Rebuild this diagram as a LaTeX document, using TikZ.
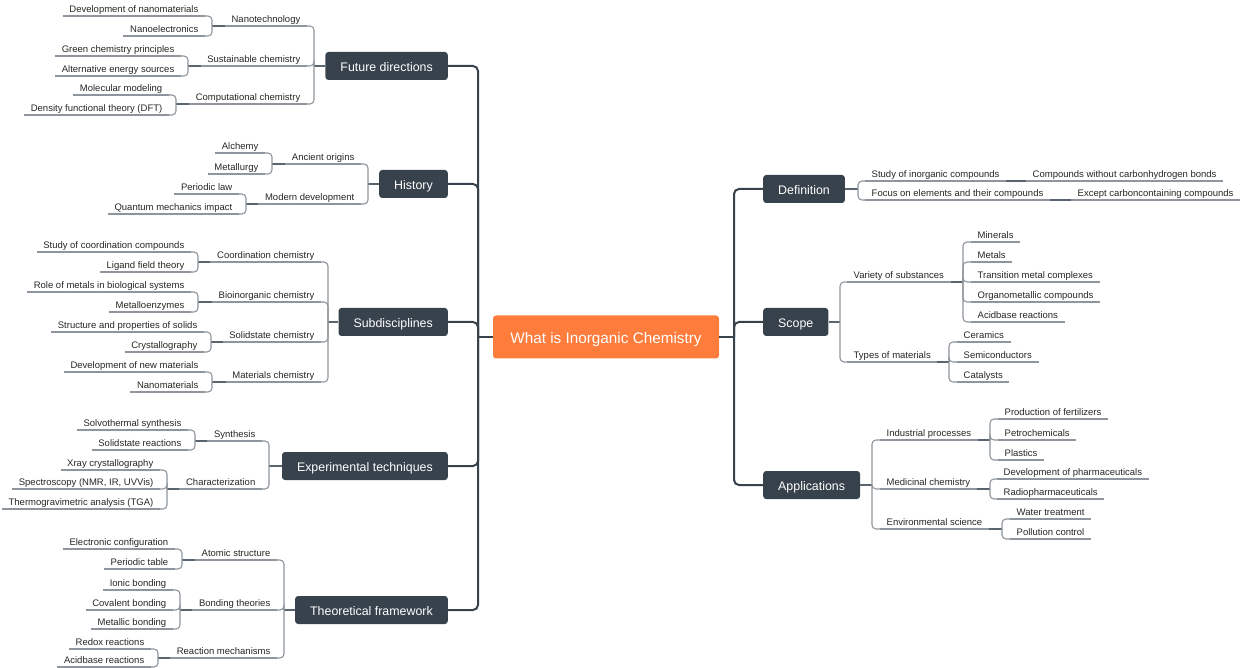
\documentclass[tikz,border=0pt]{standalone}
\usepackage{fontspec}
\setmainfont{Liberation Sans}
\usetikzlibrary{shapes}

\definecolor{rootorange}{HTML}{FE7D3D}
\definecolor{topicdark}{HTML}{37424C}
\definecolor{linegray}{HTML}{8E959C}
\definecolor{linkdark}{HTML}{5A646E}

\begin{document}
\begin{tikzpicture}[x=1pt, y=-1pt,
  root/.style={fill=rootorange, text=white, rounded corners=3pt, minimum width=226pt, minimum height=43pt, text height=12.5pt, text depth=0pt, font=\fontsize{15.3}{18}\selectfont},
  topic/.style={fill=topicdark, text=white, rounded corners=3pt, inner xsep=15pt, minimum height=28pt, text height=10.5pt, text depth=0pt, font=\fontsize{12.4}{15}\selectfont},
  idea/.style={font=\fontsize{9.5}{11}\selectfont, text=black!85, inner xsep=6.5pt, inner ysep=2pt, text height=7pt, text depth=1.5pt,
    append after command={(\tikzlastnode.south west) edge[subline] (\tikzlastnode.south east)}},
  mainline/.style={draw=topicdark, line width=2pt, rounded corners=5pt},
  linkline/.style={draw=linkdark, line width=1.2pt},
  subline/.style={draw=linegray, line width=1.1pt, rounded corners=4pt},
]
\useasboundingbox (0,0) rectangle (1240,668);

% centre
\node[root] (root) at (606,337) {What is Inorganic Chemistry};

% main topics, left
\node[topic, anchor=east] (fd) at (448,66) {Future directions};
\node[topic, anchor=east] (hi) at (448,184) {History};
\node[topic, anchor=east] (sd) at (448,322) {Subdisciplines};
\node[topic, anchor=east] (et) at (448,466) {Experimental techniques};
\node[topic, anchor=east] (tf) at (448,610) {Theoretical framework};

% main topics, right
\node[topic, anchor=west] (df) at (763,189) {Definition};
\node[topic, anchor=west] (sc) at (763,322) {Scope};
\node[topic, anchor=west] (ap) at (763,485) {Applications};

\draw[mainline] (root.west) -- (478,337);
\foreach \t in {fd,hi,sd,et,tf}
  \draw[mainline] (478,337) |- (\t.east);
\draw[mainline] (root.east) -- (734,337);
\foreach \t in {df,sc,ap}
  \draw[mainline] (734,337) |- (\t.west);

% Future directions
\node[idea, anchor=south east] (fd1) at (307,26) {Nanotechnology};
\node[idea, anchor=south east] (fd2) at (307,66) {Sustainable chemistry};
\node[idea, anchor=south east] (fd3) at (307,104) {Computational chemistry};
\node[idea, anchor=south east] (fd1a) at (205,16) {Development of nanomaterials};
\node[idea, anchor=south east] (fd1b) at (205,36) {Nanoelectronics};
\node[idea, anchor=south east] (fd2a) at (181,56) {Green chemistry principles};
\node[idea, anchor=south east] (fd2b) at (181,76) {Alternative energy sources};
\node[idea, anchor=south east] (fd3a) at (169,95) {Molecular modeling};
\node[idea, anchor=south east] (fd3b) at (169,115) {Density functional theory (DFT)};
\draw[linkline] (fd.west) -- (314,66);
\foreach \c in {fd1,fd2,fd3} \draw[subline] (314,66) |- (\c.south east);
\draw[linkline] (fd1.south west) -- (212,26);
\foreach \c in {fd1a,fd1b} \draw[subline] (212,26) |- (\c.south east);
\draw[linkline] (fd2.south west) -- (188,66);
\foreach \c in {fd2a,fd2b} \draw[subline] (188,66) |- (\c.south east);
\draw[linkline] (fd3.south west) -- (176,104);
\foreach \c in {fd3a,fd3b} \draw[subline] (176,104) |- (\c.south east);

% History
\node[idea, anchor=south east] (hi1) at (361,164) {Ancient origins};
\node[idea, anchor=south east] (hi2) at (361,204) {Modern development};
\node[idea, anchor=south east] (hi1a) at (265,153) {Alchemy};
\node[idea, anchor=south east] (hi1b) at (265,174) {Metallurgy};
\node[idea, anchor=south east] (hi2a) at (239,194) {Periodic law};
\node[idea, anchor=south east] (hi2b) at (239,214) {Quantum mechanics impact};
\draw[linkline] (hi.west) -- (368,184);
\foreach \c in {hi1,hi2} \draw[subline] (368,184) |- (\c.south east);
\draw[linkline] (hi1.south west) -- (272,164);
\foreach \c in {hi1a,hi1b} \draw[subline] (272,164) |- (\c.south east);
\draw[linkline] (hi2.south west) -- (246,204);
\foreach \c in {hi2a,hi2b} \draw[subline] (246,204) |- (\c.south east);

% Subdisciplines
\node[idea, anchor=south east] (sd1) at (321,262) {Coordination chemistry};
\node[idea, anchor=south east] (sd2) at (321,302) {Bioinorganic chemistry};
\node[idea, anchor=south east] (sd3) at (321,342) {Solidstate chemistry};
\node[idea, anchor=south east] (sd4) at (321,382) {Materials chemistry};
\node[idea, anchor=south east] (sd1a) at (191,252) {Study of coordination compounds};
\node[idea, anchor=south east] (sd1b) at (191,272) {Ligand field theory};
\node[idea, anchor=south east] (sd2a) at (191,292) {Role of metals in biological systems};
\node[idea, anchor=south east] (sd2b) at (191,312) {Metalloenzymes};
\node[idea, anchor=south east] (sd3a) at (204,332) {Structure and properties of solids};
\node[idea, anchor=south east] (sd3b) at (204,352) {Crystallography};
\node[idea, anchor=south east] (sd4a) at (205,372) {Development of new materials};
\node[idea, anchor=south east] (sd4b) at (205,392) {Nanomaterials};
\draw[linkline] (sd.west) -- (328,322);
\foreach \c in {sd1,sd2,sd3,sd4} \draw[subline] (328,322) |- (\c.south east);
\draw[linkline] (sd1.south west) -- (198,262);
\foreach \c in {sd1a,sd1b} \draw[subline] (198,262) |- (\c.south east);
\draw[linkline] (sd2.south west) -- (198,302);
\foreach \c in {sd2a,sd2b} \draw[subline] (198,302) |- (\c.south east);
\draw[linkline] (sd3.south west) -- (211,342);
\foreach \c in {sd3a,sd3b} \draw[subline] (211,342) |- (\c.south east);
\draw[linkline] (sd4.south west) -- (212,382);
\foreach \c in {sd4a,sd4b} \draw[subline] (212,382) |- (\c.south east);

% Experimental techniques
\node[idea, anchor=south east] (et1) at (262,441) {Synthesis};
\node[idea, anchor=south east] (et2) at (262,489) {Characterization};
\node[idea, anchor=south east] (et1a) at (188,430) {Solvothermal synthesis};
\node[idea, anchor=south east] (et1b) at (188,450) {Solidstate reactions};
\node[idea, anchor=south east] (et2a) at (160,470) {Xray crystallography};
\node[idea, anchor=south east] (et2b) at (160,489) {Spectroscopy (NMR, IR, UVVis)};
\node[idea, anchor=south east] (et2c) at (160,509) {Thermogravimetric analysis (TGA)};
\draw[linkline] (et.west) -- (269,466);
\foreach \c in {et1,et2} \draw[subline] (269,466) |- (\c.south east);
\draw[linkline] (et1.south west) -- (195,441);
\foreach \c in {et1a,et1b} \draw[subline] (195,441) |- (\c.south east);
\draw[linkline] (et2.south west) -- (167,489);
\foreach \c in {et2a,et2b,et2c} \draw[subline] (167,489) |- (\c.south east);

% Theoretical framework
\node[idea, anchor=south east] (tf1) at (277,560) {Atomic structure};
\node[idea, anchor=south east] (tf2) at (277,610) {Bonding theories};
\node[idea, anchor=south east] (tf3) at (277,658) {Reaction mechanisms};
\node[idea, anchor=south east] (tf1a) at (175,549) {Electronic configuration};
\node[idea, anchor=south east] (tf1b) at (175,569) {Periodic table};
\node[idea, anchor=south east] (tf2a) at (173,590) {Ionic bonding};
\node[idea, anchor=south east] (tf2b) at (173,610) {Covalent bonding};
\node[idea, anchor=south east] (tf2c) at (173,629) {Metallic bonding};
\node[idea, anchor=south east] (tf3a) at (151,649) {Redox reactions};
\node[idea, anchor=south east] (tf3b) at (151,667) {Acidbase reactions};
\draw[linkline] (tf.west) -- (284,610);
\foreach \c in {tf1,tf2,tf3} \draw[subline] (284,610) |- (\c.south east);
\draw[linkline] (tf1.south west) -- (182,560);
\foreach \c in {tf1a,tf1b} \draw[subline] (182,560) |- (\c.south east);
\draw[linkline] (tf2.south west) -- (180,610);
\foreach \c in {tf2a,tf2b,tf2c} \draw[subline] (180,610) |- (\c.south east);
\draw[linkline] (tf3.south west) -- (158,658);
\foreach \c in {tf3a,tf3b} \draw[subline] (158,658) |- (\c.south east);

% Definition
\node[idea, anchor=south west] (df1) at (865,181) {Study of inorganic compounds};
\node[idea, anchor=south west] (df2) at (865,200) {Focus on elements and their compounds};
\node[idea, anchor=south west] (df1a) at (1026,181) {Compounds without carbonhydrogen bonds};
\node[idea, anchor=south west] (df2a) at (1071,200) {Except carboncontaining compounds};
\draw[linkline] (df.east) -- (858,189);
\foreach \c in {df1,df2} \draw[subline] (858,189) |- (\c.south west);
\draw[linkline] (df1.south east) -- (df1a.south west);
\draw[linkline] (df2.south east) -- (df2a.south west);

% Scope
\node[idea, anchor=south west] (sc1) at (847,282) {Variety of substances};
\node[idea, anchor=south west] (sc2) at (847,362) {Types of materials};
\node[idea, anchor=south west] (sc1a) at (971,242) {Minerals};
\node[idea, anchor=south west] (sc1b) at (971,262) {Metals};
\node[idea, anchor=south west] (sc1c) at (971,282) {Transition metal complexes};
\node[idea, anchor=south west] (sc1d) at (971,302) {Organometallic compounds};
\node[idea, anchor=south west] (sc1e) at (971,322) {Acidbase reactions};
\node[idea, anchor=south west] (sc2a) at (957,342) {Ceramics};
\node[idea, anchor=south west] (sc2b) at (957,362) {Semiconductors};
\node[idea, anchor=south west] (sc2c) at (957,382) {Catalysts};
\draw[linkline] (sc.east) -- (840,322);
\foreach \c in {sc1,sc2} \draw[subline] (840,322) |- (\c.south west);
\draw[linkline] (sc1.south east) -- (963,282);
\foreach \c in {sc1a,sc1b,sc1c,sc1d,sc1e} \draw[subline] (963,282) |- (\c.south west);
\draw[linkline] (sc2.south east) -- (949,362);
\foreach \c in {sc2a,sc2b,sc2c} \draw[subline] (949,362) |- (\c.south west);

% Applications
\node[idea, anchor=south west] (ap1) at (880,440) {Industrial processes};
\node[idea, anchor=south west] (ap2) at (880,489) {Medicinal chemistry};
\node[idea, anchor=south west] (ap3) at (880,529) {Environmental science};
\node[idea, anchor=south west] (ap1a) at (998,419) {Production of fertilizers};
\node[idea, anchor=south west] (ap1b) at (998,440) {Petrochemicals};
\node[idea, anchor=south west] (ap1c) at (998,460) {Plastics};
\node[idea, anchor=south west] (ap2a) at (997,479) {Development of pharmaceuticals};
\node[idea, anchor=south west] (ap2b) at (997,499) {Radiopharmaceuticals};
\node[idea, anchor=south west] (ap3a) at (1010,519) {Water treatment};
\node[idea, anchor=south west] (ap3b) at (1010,539) {Pollution control};
\draw[linkline] (ap.east) -- (872,485);
\foreach \c in {ap1,ap2,ap3} \draw[subline] (872,485) |- (\c.south west);
\draw[linkline] (ap1.south east) -- (990,440);
\foreach \c in {ap1a,ap1b,ap1c} \draw[subline] (990,440) |- (\c.south west);
\draw[linkline] (ap2.south east) -- (990,489);
\foreach \c in {ap2a,ap2b} \draw[subline] (990,489) |- (\c.south west);
\draw[linkline] (ap3.south east) -- (1002,529);
\foreach \c in {ap3a,ap3b} \draw[subline] (1002,529) |- (\c.south west);
\end{tikzpicture}
\end{document}
